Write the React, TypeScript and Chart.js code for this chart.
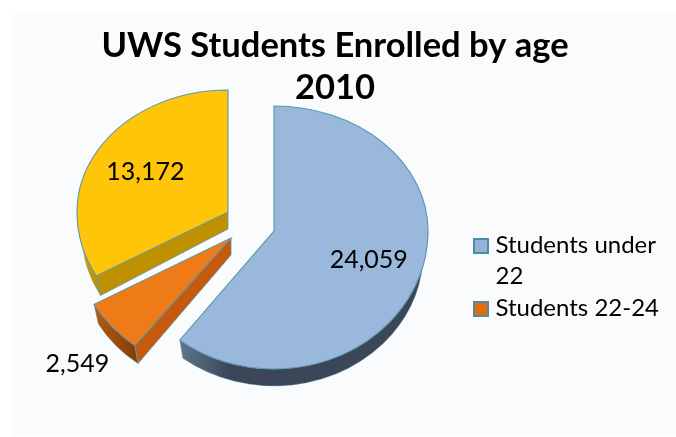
import React, { useEffect, useRef } from "react";
import { Chart, registerables } from "chart.js";

Chart.register(...registerables);

// Enrolment counts per age band, clockwise from twelve o'clock.
const categories = ["Students under 22", "Students 22-24", "Students over 24"];
const legendLines = [["Students under", "22"], ["Students 22-24"]];
const enrolled = [24059, 2549, 13172];
const topColors = ["#9AB8DB", "#EE7A18", "#FFC508"];
const legendColors = ["#95B3D7", "#E46C0A"];

// Exploded, tilted presentation of the pie: each wedge's tip relative to the
// pie centre plus its on-screen radii (the far half is foreshortened more).
const PIE_CENTER = { x: 255, y: 225 };
const TIP_SHIFT = [[19, 6], [-24, 13], [-27, -13]];
const RADIUS_X = [154, 157, 151];
const RADIUS_UP = [125, 128, 122];
const RADIUS_DOWN = [138, 136, 131];
const DEPTH = 17;
// The underside is slightly smaller, so the wall tapers away at the sides.
const BASE_DROP = 22;
const BASE_SHRINK = 5;
const EDGE = "#5B98AE";
const CUT_FACE = ["#3B4658", "#C55A0C", "#BF9000"];
const RIM_STOPS: [number, string][][] = [
  [[0, "#3B4658"], [0.8, "#3B4658"], [1, "#5F768C"]],
  [[0, "#84400A"], [1, "#B8590E"]],
  [[0, "#BF9000"], [1, "#DDA806"]],
];
const LABEL_RADIAL = [0.65, 1.35, 0.65];
const LABEL_NUDGE = [[0, 0], [7, 6], [2, 0]];

function tipOf(i: number) {
  return { x: PIE_CENTER.x + TIP_SHIFT[i][0], y: PIE_CENTER.y + TIP_SHIFT[i][1] };
}

function rimPoint(i: number, angle: number, radial = 1) {
  const tip = tipOf(i);
  const s = Math.sin(angle);
  return {
    x: tip.x + RADIUS_X[i] * radial * Math.cos(angle),
    y: tip.y + (s > 0 ? RADIUS_DOWN[i] : RADIUS_UP[i]) * radial * s,
  };
}

function basePoint(i: number, angle: number) {
  const tip = tipOf(i);
  return {
    x: tip.x + (RADIUS_X[i] - BASE_SHRINK) * Math.cos(angle),
    y: tip.y + BASE_DROP + (RADIUS_DOWN[i] - BASE_SHRINK) * Math.sin(angle),
  };
}

function drawWalls(ctx: CanvasRenderingContext2D, i: number, start: number, end: number) {
  const tip = tipOf(i);
  // Outer wall: only the part of the rim facing the viewer.
  const from = Math.max(start, 0);
  const to = Math.min(end, Math.PI);
  if (to > from) {
    const a = rimPoint(i, to);
    const b = rimPoint(i, from);
    const fill = ctx.createLinearGradient(b.x, 0, a.x, 0);
    RIM_STOPS[i].forEach(([stop, c]) => fill.addColorStop(stop, c));
    ctx.beginPath();
    ctx.ellipse(tip.x, tip.y, RADIUS_X[i], RADIUS_DOWN[i], 0, from, to);
    ctx.ellipse(
      tip.x,
      tip.y + BASE_DROP,
      RADIUS_X[i] - BASE_SHRINK,
      RADIUS_DOWN[i] - BASE_SHRINK,
      0,
      to,
      from,
      true,
    );
    ctx.closePath();
    ctx.fillStyle = fill;
    ctx.fill();
    ctx.strokeStyle = EDGE;
    ctx.globalAlpha = 0.5;
    ctx.lineWidth = 0.8;
    ctx.stroke();
    ctx.globalAlpha = 1;
  }
  // Flat cut faces whose outward normal points towards the viewer.
  const faces: number[] = [];
  if (Math.cos(start) < -0.01) faces.push(start);
  if (Math.cos(end) > 0.01) faces.push(end);
  faces.forEach((angle) => {
    const p = rimPoint(i, angle);
    const q = basePoint(i, angle);
    ctx.beginPath();
    ctx.moveTo(tip.x, tip.y);
    ctx.lineTo(p.x, p.y);
    ctx.lineTo(q.x, q.y);
    ctx.lineTo(tip.x, tip.y + DEPTH);
    ctx.closePath();
    ctx.fillStyle = CUT_FACE[i];
    ctx.fill();
    ctx.strokeStyle = EDGE;
    ctx.lineWidth = 0.8;
    ctx.stroke();
  });
}

const panelPlugin = {
  id: "panel",
  beforeDraw(chart: any) {
    const { ctx, width } = chart;
    ctx.save();
    ctx.fillStyle = "#FAFBFD";
    ctx.fillRect(13, 13, width - 13, 423);
    ctx.restore();
  },
};

const tiltedPiePlugin = {
  id: "tiltedPie",
  beforeDatasetDraw(chart: any) {
    const { ctx, width, height } = chart;
    const arcs = chart.getDatasetMeta(0).data;
    [2, 1, 0].forEach((i) => {
      const arc = arcs[i];
      const { x, y, startAngle, endAngle, outerRadius } = arc.getProps(
        ["x", "y", "startAngle", "endAngle", "outerRadius"],
        true,
      );
      drawWalls(ctx, i, startAngle, endAngle);
      const tip = tipOf(i);
      // The top face is the library's arc, stretched separately above and below its tip.
      const bands = [
        { top: 0, bottom: tip.y, ry: RADIUS_UP[i] },
        { top: tip.y, bottom: height, ry: RADIUS_DOWN[i] },
      ];
      bands.forEach((band) => {
        ctx.save();
        ctx.beginPath();
        ctx.rect(0, band.top, width, band.bottom - band.top);
        ctx.clip();
        ctx.translate(tip.x, tip.y);
        ctx.scale(RADIUS_X[i] / outerRadius, band.ry / outerRadius);
        ctx.translate(-x, -y);
        arc.draw(ctx);
        ctx.restore();
      });
    });
    return false;
  },
  afterDatasetsDraw(chart: any) {
    const { ctx } = chart;
    const arcs = chart.getDatasetMeta(0).data;
    ctx.save();
    ctx.fillStyle = "#000000";
    ctx.font = "25px Lato";
    ctx.textAlign = "center";
    ctx.textBaseline = "middle";
    enrolled.forEach((value, i) => {
      const { startAngle, endAngle } = arcs[i].getProps(["startAngle", "endAngle"], true);
      const p = rimPoint(i, (startAngle + endAngle) / 2, LABEL_RADIAL[i]);
      ctx.fillText(value.toLocaleString("en-US"), p.x + LABEL_NUDGE[i][0], p.y + LABEL_NUDGE[i][1]);
    });
    ctx.restore();
  },
  // Legend swatches sit closer to their text than the built-in gap allows.
  afterDraw(chart: any) {
    const { ctx } = chart;
    ctx.save();
    chart.legend.legendHitBoxes.forEach((hit: any, i: number) => {
      const left = Math.round(hit.left) + 6;
      const top = Math.round(hit.top) + 6;
      ctx.fillStyle = legendColors[i];
      ctx.strokeStyle = "#4B8DA3";
      ctx.lineWidth = 2;
      ctx.fillRect(left, top, 14, 14);
      ctx.strokeRect(left, top, 14, 14);
    });
    ctx.restore();
  },
};

export default function App() {
  const canvasRef = useRef<HTMLCanvasElement>(null);

  useEffect(() => {
    const chart = new Chart(canvasRef.current!, {
      type: "pie",
      data: {
        labels: categories,
        datasets: [
          {
            data: enrolled,
            backgroundColor: topColors,
            borderColor: EDGE,
            borderWidth: 0.8,
            borderJoinStyle: "miter",
          },
        ],
      },
      options: {
        responsive: false,
        animation: false,
        layout: { padding: { left: 1, right: 7, top: 25, bottom: 110 } },
        plugins: {
          tooltip: { enabled: false },
          title: {
            display: true,
            text: ["UWS Students Enrolled by age", "2010"],
            color: "#000000",
            font: { family: "Lato", size: 34.5, weight: "bold", lineHeight: 1.22 },
            padding: 0,
          },
          legend: {
            display: true,
            position: "right",
            align: "end",
            labels: {
              boxWidth: 15,
              boxHeight: 15,
              padding: 0,
              color: "#000000",
              font: { family: "Lato", size: 24, lineHeight: 1.3 },
              generateLabels: () =>
                legendLines.map((text, i) => ({
                  text,
                  fillStyle: "rgba(0,0,0,0)",
                  strokeStyle: "rgba(0,0,0,0)",
                  lineWidth: 0,
                  index: i,
                  hidden: false,
                })),
            },
          },
        },
      },
      plugins: [panelPlugin, tiltedPiePlugin],
    } as any);
    return () => chart.destroy();
  }, []);

  return (
    <div style={{ position: "absolute", left: 0, top: 0, width: 676, height: 437 }}>
      <canvas ref={canvasRef} width={676} height={437} style={{ display: "block" }} />
    </div>
  );
}
